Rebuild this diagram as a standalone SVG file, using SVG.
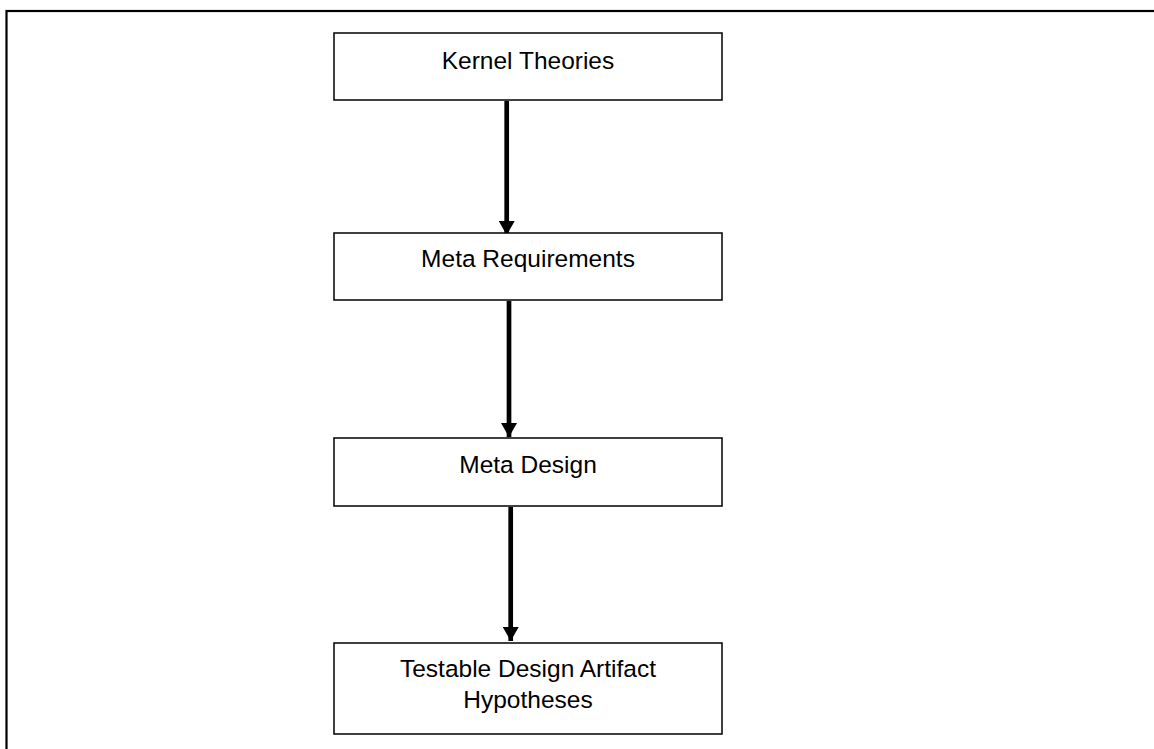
<svg xmlns="http://www.w3.org/2000/svg" width="1154" height="749" viewBox="0 0 1154 749">
<style>
.box{fill:#fff;stroke:#000;stroke-width:1.5}
.lbl{font-family:"Liberation Sans",Arial,sans-serif;font-size:24.5px;fill:#000;text-anchor:middle}
.conn{stroke:#000;stroke-width:4.7;fill:none}
</style>
<defs>
<marker id="ah" markerUnits="userSpaceOnUse" markerWidth="14" markerHeight="16" refX="14" refY="8" orient="auto">
<path d="M0,0 L14,8 L0,16 Z" fill="#000"/>
</marker>
</defs>
<rect x="6.5" y="11" width="1200" height="800" fill="none" stroke="#000" stroke-width="2.2"/>
<g id="connectors">
<line class="conn" x1="506.7" y1="101" x2="506.7" y2="235" marker-end="url(#ah)"/>
<line class="conn" x1="509" y1="301" x2="509" y2="437" marker-end="url(#ah)"/>
<line class="conn" x1="510.7" y1="507" x2="510.7" y2="641" marker-end="url(#ah)"/>
</g>
<g id="kernel">
<rect class="box" x="334" y="33" width="388" height="67"/>
<text class="lbl" x="528" y="69.3">Kernel Theories</text>
</g>
<g id="metareq">
<rect class="box" x="334" y="233" width="388" height="67"/>
<text class="lbl" x="528" y="266.7">Meta Requirements</text>
</g>
<g id="metadesign">
<rect class="box" x="334" y="438" width="388" height="68"/>
<text class="lbl" x="528" y="472.7">Meta Design</text>
</g>
<g id="testable">
<rect class="box" x="334" y="643" width="388" height="91"/>
<text class="lbl" x="528" y="676.7">Testable Design Artifact</text>
<text class="lbl" x="528" y="707.7">Hypotheses</text>
</g>
</svg>
